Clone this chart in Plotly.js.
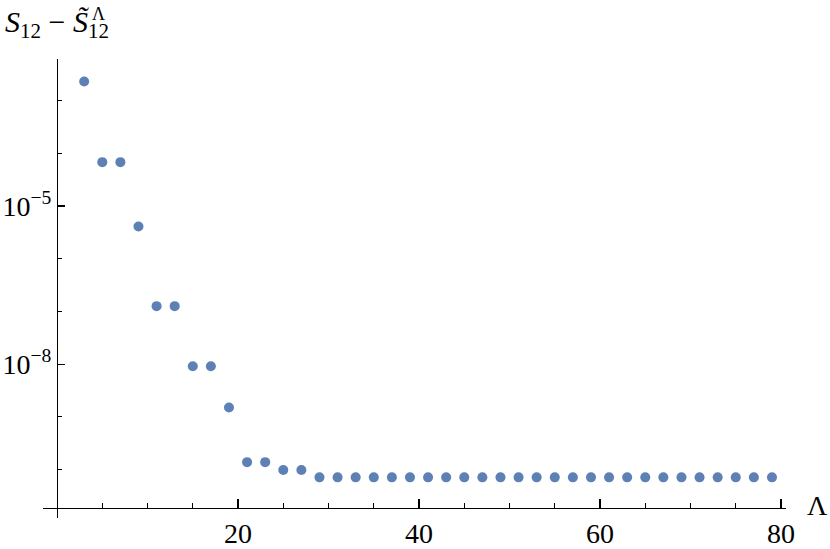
<!DOCTYPE html>
<html>
<head>
<meta charset="utf-8">
<script src="https://cdn.plot.ly/plotly-3.0.1.min.js"></script>
<style>
  html, body { margin: 0; padding: 0; background: #fff; }
  #plot { width: 830px; height: 549px; }
</style>
</head>
<body>
<div id="plot"></div>
<script>
// cutoff Lambda (odd values)
var lambda = [3, 5, 7, 9, 11, 13, 15, 17, 19, 21, 23, 25, 27, 29, 31, 33, 35, 37, 39,
  41, 43, 45, 47, 49, 51, 53, 55, 57, 59, 61, 63, 65, 67, 69, 71, 73, 75, 77, 79];

// S12 - S~12^Lambda
var diff = [2.3e-3, 6.8e-5, 6.8e-5, 4.1e-6, 1.26e-7, 1.26e-7, 9.1e-9, 9.1e-9, 1.5e-9,
  1.38e-10, 1.38e-10, 9.8e-11, 9.8e-11,
  7.1e-11, 7.1e-11, 7.1e-11, 7.1e-11, 7.1e-11, 7.1e-11, 7.1e-11, 7.1e-11, 7.1e-11,
  7.1e-11, 7.1e-11, 7.1e-11, 7.1e-11, 7.1e-11, 7.1e-11, 7.1e-11, 7.1e-11, 7.1e-11,
  7.1e-11, 7.1e-11, 7.1e-11, 7.1e-11, 7.1e-11, 7.1e-11, 7.1e-11, 7.1e-11];

var xTicks = [20, 40, 60, 80];
var yTicks = [1e-5, 1e-8];
var yTickText = ['10<sup>\u22125</sup>', '10<sup>\u22128</sup>'];
var yMinorTicks = [1e-3, 1e-4, 1e-6, 1e-7, 1e-9, 1e-10];

var xRange = [-1.55, 80.55];
var yRange = [-10.92, -2.21];   // log10 units
var yCross = -10.73;            // where the x axis sits

var serif = "'Liberation Serif', 'Times New Roman', serif";

var trace = {
  x: lambda,
  y: diff,
  mode: 'markers',
  type: 'scatter',
  marker: { color: '#5E81B5', size: 10 },
  hoverinfo: 'x+y'
};

var layout = {
  width: 830,
  height: 549,
  margin: { l: 43, r: 44, t: 59, b: 31 },
  paper_bgcolor: '#fff',
  plot_bgcolor: '#fff',
  showlegend: false,
  font: { family: serif, size: 26, color: '#000' },
  xaxis: {
    range: xRange,
    anchor: 'free',
    position: (yCross - yRange[0]) / (yRange[1] - yRange[0]),
    showline: true,
    linecolor: '#000',
    linewidth: 1.2,
    showgrid: false,
    zeroline: false,
    tickmode: 'array',
    tickvals: xTicks,
    ticks: 'inside',
    ticklen: 9,
    tickwidth: 1.2,
    tickcolor: '#000',
    minor: { dtick: 5, tick0: 0, ticks: 'inside', ticklen: 5, tickwidth: 1, tickcolor: '#000', showgrid: false },
    tickfont: { family: serif, size: 28, color: '#000' }
  },
  yaxis: {
    type: 'log',
    range: yRange,
    anchor: 'free',
    position: (0 - xRange[0]) / (xRange[1] - xRange[0]),
    showline: true,
    linecolor: '#000',
    linewidth: 1.2,
    showgrid: false,
    zeroline: false,
    tickmode: 'array',
    tickvals: yTicks,
    ticktext: yTickText,
    ticks: 'inside',
    ticklen: 7,
    tickwidth: 1.2,
    tickcolor: '#000',
    minor: { tickvals: yMinorTicks, ticks: 'inside', ticklen: 4, tickwidth: 1, tickcolor: '#000', showgrid: false },
    tickfont: { family: serif, size: 28, color: '#000' }
  },
  annotations: [
    {
      xref: 'paper', yref: 'paper', x: 1, y: (yCross - yRange[0]) / (yRange[1] - yRange[0]),
      xanchor: 'left', yanchor: 'middle', xshift: 19, yshift: 2,
      text: '\u039b', showarrow: false,
      font: { family: serif, size: 28, color: '#000' }
    },
    {
      xref: 'paper', yref: 'paper', x: 0, y: 1,
      xanchor: 'left', yanchor: 'bottom', xshift: -40, yshift: 14,
      text: '<i>S</i><sub>12</sub> \u2212 <i>S\u0303</i><sub>12</sub>', showarrow: false,
      font: { family: serif, size: 30, color: '#000' }
    },
    {
      xref: 'paper', yref: 'paper', x: 0, y: 1,
      xanchor: 'left', yanchor: 'bottom', xshift: 47, yshift: 33,
      text: '\u039b', showarrow: false,
      font: { family: serif, size: 18, color: '#000' }
    }
  ]
};

Plotly.newPlot('plot', [trace], layout, { displayModeBar: false, staticPlot: true });
</script>
</body>
</html>
